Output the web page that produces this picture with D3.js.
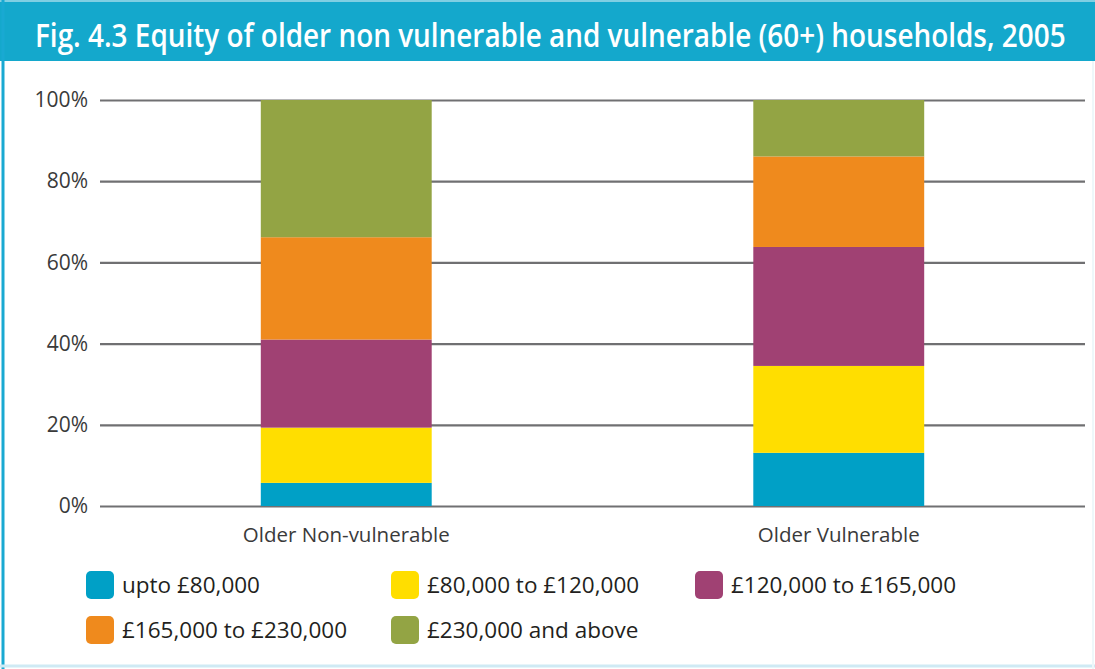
<!DOCTYPE html>
<html>
<head>
<meta charset="utf-8">
<script src="https://cdn.jsdelivr.net/npm/d3@7"></script>
<style>
  body { margin: 0; background: #fff; }
  svg { display: block; }
</style>
</head>
<body>
<div id="chart"></div>
<script>
// Data (percent of households)
var categories = ["Older Non-vulnerable", "Older Vulnerable"];
var bands = ["upto £80,000", "£80,000 to £120,000", "£120,000 to £165,000", "£165,000 to £230,000", "£230,000 and above"];
var upto80 = [5.7, 13.1];
var from80to120 = [13.6, 21.4];
var from120to165 = [21.7, 29.3];
var from165to230 = [25.2, 22.3];
var over230 = [33.8, 13.9];
var tickValues = [0, 20, 40, 60, 80, 100];
var colors = ["#00a0c6", "#ffde00", "#a04173", "#ef8a1d", "#93a444"];

var series = [upto80, from80to120, from120to165, from165to230, over230];
var rows = categories.map(function (c, i) {
    var r = { cat: c };
    bands.forEach(function (b, j) { r[b] = series[j][i]; });
    return r;
});

var W = 1095, H = 669;
var svg = d3.select("#chart").append("svg")
    .attr("width", W)
    .attr("height", H);

// frame + title banner
svg.append("rect").attr("width", W).attr("height", H).attr("fill", "#fff");
svg.append("rect").attr("x", 0).attr("y", 0).attr("width", W).attr("height", 61).attr("fill", "#14a8cc");
svg.append("line").attr("x1", 0).attr("x2", W).attr("y1", 1).attr("y2", 1)
    .attr("stroke", "#7fcfe3").attr("stroke-width", 2);
svg.append("line").attr("x1", 3).attr("x2", 3).attr("y1", 0).attr("y2", H)
    .attr("stroke", "#19a9d2").attr("stroke-width", 3);
svg.append("line").attr("x1", 0).attr("x2", W).attr("y1", 666).attr("y2", 666)
    .attr("stroke", "#cfeaf4").attr("stroke-width", 3);
svg.append("line").attr("x1", W - 2).attr("x2", W - 2).attr("y1", 61).attr("y2", H)
    .attr("stroke", "#eef7fa").attr("stroke-width", 2);

// title: squeeze horizontally to mimic the condensed face
var title = svg.append("text")
    .style("font-family", "'Open Sans', 'Noto Sans', sans-serif")
    .style("font-weight", 600)
    .style("font-size", "32px")
    .attr("fill", "#fff")
    .text("Fig. 4.3 Equity of older non vulnerable and vulnerable (60+) households, 2005");
var tw = title.node().getComputedTextLength();
title.attr("transform", "translate(35,47) scale(" + (1031 / tw) + ",1)");

// scales
var x = d3.scaleBand().domain(categories).range([100, 1085])
    .paddingInner(0.653).paddingOuter(0.3265);
var y = d3.scaleLinear().domain([0, 100]).range([506, 100]);

var font = "'Open Sans', 'Noto Sans', sans-serif";

// gridlines / y axis
var yAxis = d3.axisLeft(y).tickValues(tickValues)
    .tickSize(-985).tickPadding(12)
    .tickFormat(function (d) { return d + "%"; });
var gy = svg.append("g").attr("transform", "translate(100,0)").call(yAxis);
gy.select(".domain").remove();
gy.selectAll(".tick line").attr("stroke", "#707072").attr("stroke-width", 2.2);
gy.selectAll(".tick text")
    .attr("fill", "#3a3a3a")
    .style("font-family", font)
    .style("font-size", "21px");

// stacked bars
var stack = d3.stack().keys(bands)(rows);
svg.append("g").selectAll("g")
    .data(stack)
    .enter().append("g")
    .attr("fill", function (d, i) { return colors[i]; })
    .selectAll("rect")
    .data(function (d) { return d; })
    .enter().append("rect")
    .attr("x", function (d) { return x(d.data.cat); })
    .attr("width", x.bandwidth())
    .attr("y", function (d) { return y(d[1]); })
    .attr("height", function (d) { return y(d[0]) - y(d[1]); });

// category labels
var xAxis = d3.axisBottom(x).tickSize(0).tickPadding(21);
var gx = svg.append("g").attr("transform", "translate(0,506)").call(xAxis);
gx.select(".domain").remove();
gx.selectAll(".tick text")
    .attr("fill", "#3a3a3a")
    .style("font-family", font)
    .style("font-size", "20.5px");

// legend
var legendCols = [86, 391, 695];
var legend = svg.append("g").selectAll("g")
    .data(bands)
    .enter().append("g")
    .attr("transform", function (d, i) {
        return "translate(" + legendCols[i % 3] + "," + (571 + Math.floor(i / 3) * 45) + ")";
    });
legend.append("rect")
    .attr("width", 28).attr("height", 28).attr("rx", 5)
    .attr("fill", function (d, i) { return colors[i]; });
legend.append("text")
    .attr("x", 36).attr("y", 22)
    .attr("fill", "#231f20")
    .style("font-family", font)
    .style("font-size", "22.5px")
    .text(function (d) { return d; });
</script>
</body>
</html>
